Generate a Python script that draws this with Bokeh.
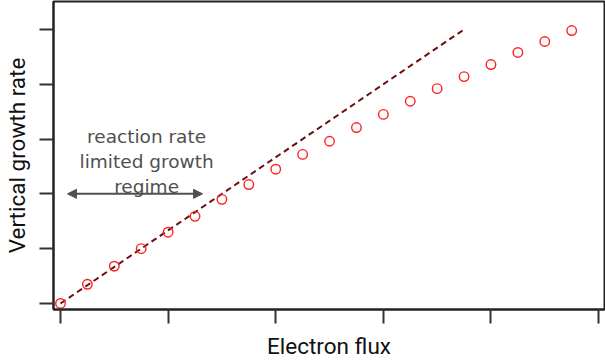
from bokeh.plotting import figure
from bokeh.models import Range1d, FixedTicker, Arrow, NormalHead, Label, ColumnDataSource
from bokeh.embed import file_html
from bokeh.resources import INLINE

# data
flux = list(range(20))
growth = [0, 0.35, 0.68, 1.00, 1.30, 1.59, 1.90, 2.17, 2.45, 2.72,
          2.96, 3.21, 3.45, 3.69, 3.92, 4.14, 4.36, 4.58, 4.78, 4.98]
fit_x = [0, 15]
fit_y = [0, 5.0]
x_ticks = [0, 4, 8, 12, 16, 20]
y_ticks = [0, 1, 2, 3, 4, 5]
x_title = "Electron flux"
y_title = "Vertical growth rate"
regime_lines = ["reaction rate", "limited growth", "regime"]
regime_x = 3.2
regime_y = [3.05, 2.59, 2.135]
arrow_x = [0.26, 5.28]
arrow_y = 2.0

FRAME = "#222222"

p = figure(width=605, height=361, output_backend="svg", toolbar_location=None,
           x_range=Range1d(-0.26, 20.22), y_range=Range1d(-0.11, 5.51),
           min_border_left=53, min_border_right=1, min_border_top=1, min_border_bottom=52)
p.grid.visible = False
p.outline_line_color = FRAME
p.outline_line_width = 2
p.background_fill_color = None
p.border_fill_color = None

for ax, ticks in ((p.xaxis[0], x_ticks), (p.yaxis[0], y_ticks)):
    ax.ticker = FixedTicker(ticks=ticks)
    ax.major_label_overrides = {t: "" for t in ticks}
    ax.major_label_text_font_size = "0px"
    ax.major_label_standoff = 0
    ax.minor_tick_line_color = None
    ax.axis_line_color = FRAME
    ax.axis_line_width = 2
    ax.major_tick_in = 0
    ax.major_tick_out = 14
    ax.major_tick_line_width = 2
    ax.major_tick_line_color = "#333333"
    ax.axis_label_text_font = "Roboto"
    ax.axis_label_text_font_style = "normal"
    ax.axis_label_text_font_size = "22.5px"
    ax.axis_label_text_color = "#111111"

p.xaxis.axis_label = x_title
p.yaxis.axis_label = y_title
p.xaxis.axis_label_standoff = 9
p.yaxis.axis_label_standoff = 10

p.line(fit_x, fit_y, line_color="#6e0f0f", line_width=2, line_dash="6 4")
src = ColumnDataSource(dict(x=flux, y=growth))
p.scatter("x", "y", source=src, marker="circle", size=9.5, fill_color=None,
          line_color="#ff2020", line_width=1.4)

p.add_layout(Arrow(x_start=arrow_x[0], y_start=arrow_y, x_end=arrow_x[1], y_end=arrow_y,
                   line_color="#505050", line_width=2,
                   start=NormalHead(size=9, line_color="#505050", fill_color="#505050"),
                   end=NormalHead(size=9, line_color="#505050", fill_color="#505050")))

for txt, yy in zip(regime_lines, regime_y):
    p.add_layout(Label(x=regime_x, y=yy, text=txt, text_align="center",
                       text_baseline="alphabetic", text_font="DejaVu Sans",
                       text_font_size="18.5px", text_color="#505050"))

open("out.html", "w").write(file_html(p, INLINE))
